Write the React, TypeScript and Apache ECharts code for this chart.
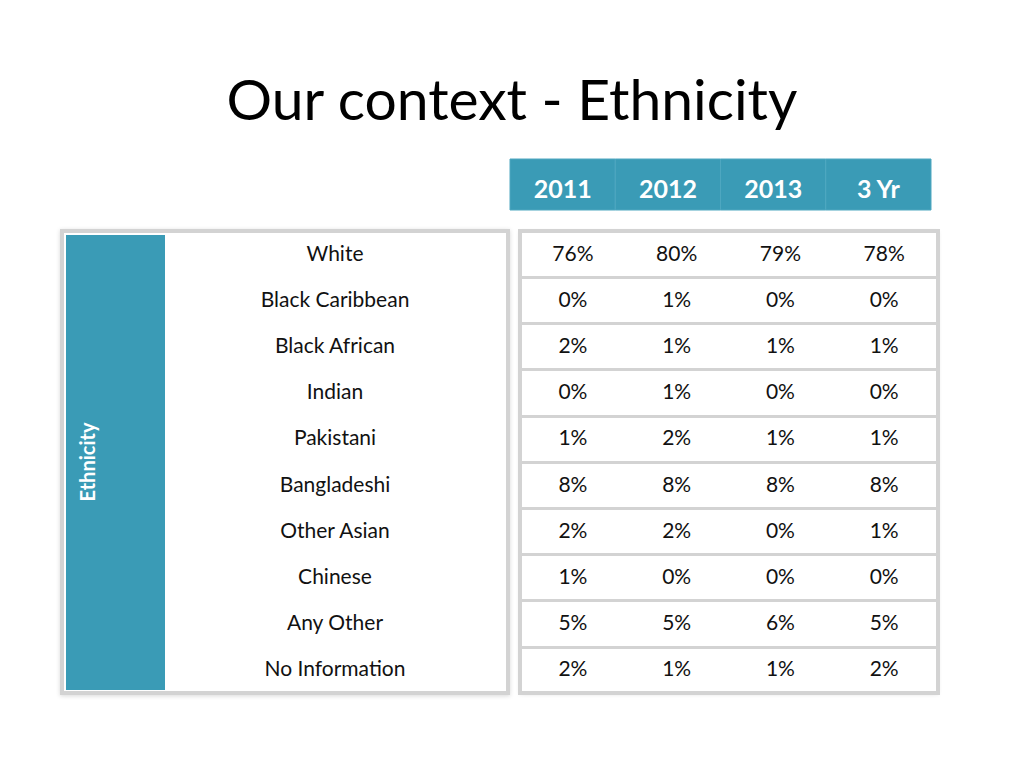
import React, { useEffect, useRef } from "react";
import * as echarts from "echarts";

const years = ["2011", "2012", "2013", "3 Yr"];
const ethnicities = [
  "White",
  "Black Caribbean",
  "Black African",
  "Indian",
  "Pakistani",
  "Bangladeshi",
  "Other Asian",
  "Chinese",
  "Any Other",
  "No Information",
];
const v2011 = [76, 0, 2, 0, 1, 8, 2, 1, 5, 2];
const v2012 = [80, 1, 1, 1, 2, 8, 2, 0, 5, 1];
const v2013 = [79, 0, 1, 0, 1, 8, 0, 0, 6, 1];
const v3yr = [78, 0, 1, 0, 1, 8, 1, 0, 5, 2];
const seriesValues = [v2011, v2012, v2013, v3yr];

const BLUE = "#3a9bb6";
const GRAY = "#d3d3d3";
const FONT = "Lato, 'Open Sans', sans-serif";

export default function App() {
  const ref = useRef<HTMLDivElement>(null);
  useEffect(() => {
    if (!ref.current) return;
    const chart = echarts.init(ref.current, undefined, { renderer: "svg" });
    const cellData: any[] = [];
    seriesValues.forEach((vals, c) => {
      vals.forEach((v, r) => cellData.push([c, r, v]));
    });
    const option: any = {
      animation: false,
      backgroundColor: "#ffffff",
      title: {
        text: "Our context - Ethnicity",
        left: "center",
        top: 64,
        textStyle: { fontFamily: FONT, fontSize: 57, fontWeight: "normal", color: "#000" },
      },
      grid: [
        { left: 521, top: 231, width: 415, height: 462 },
        { left: 510, top: 159, width: 421, height: 51 },
        { left: 165, top: 231, width: 340, height: 462 },
      ],
      xAxis: [
        { type: "category", data: years, gridIndex: 0, show: false },
        { type: "category", data: years, gridIndex: 1, show: false },
        { type: "category", data: ["label"], gridIndex: 2, show: false },
      ],
      yAxis: [
        {
          type: "category",
          data: ethnicities,
          gridIndex: 0,
          inverse: true,
          axisLine: { show: false },
          axisTick: { show: false },
          axisLabel: { show: false },
          splitLine: { show: true, lineStyle: { color: GRAY, width: 3 } },
        },
        { type: "category", data: ["header"], gridIndex: 1, show: false },
        { type: "category", data: ethnicities, gridIndex: 2, inverse: true, show: false },
      ],
      graphic: [
        {
          type: "rect",
          z: 0,
          shape: { x: 62, y: 231, width: 446, height: 462 },
          style: { fill: "#fff", stroke: GRAY, lineWidth: 4, shadowBlur: 4, shadowColor: "rgba(0,0,0,0.15)", shadowOffsetY: 1 },
        },
        {
          type: "rect",
          z: 1,
          shape: { x: 66, y: 235, width: 99, height: 455 },
          style: { fill: BLUE },
        },
        {
          type: "text",
          z: 2,
          x: 87,
          y: 462,
          rotation: Math.PI / 2,
          style: {
            text: "Ethnicity",
            fill: "#fff",
            font: `bold 20px ${FONT}`,
            align: "center",
            verticalAlign: "middle",
          },
        },
        {
          type: "rect",
          z: 0,
          shape: { x: 520, y: 231, width: 418, height: 462 },
          style: { fill: "#fff", stroke: "none", shadowBlur: 4, shadowColor: "rgba(0,0,0,0.15)", shadowOffsetY: 1 },
        },
        {
          type: "rect",
          z: 100,
          shape: { x: 520, y: 231, width: 418, height: 462 },
          style: { fill: "none", stroke: GRAY, lineWidth: 4 },
        },
      ],
      series: [
        {
          type: "custom",
          xAxisIndex: 0,
          yAxisIndex: 0,
          data: cellData,
          z: 10,
          renderItem: (params: any, api: any) => {
            const p = api.coord([api.value(0), api.value(1)]);
            return {
              type: "text",
              x: p[0],
              y: p[1] - 2,
              style: {
                text: api.value(2) + "%",
                fill: "#111",
                font: `21px ${FONT}`,
                align: "center",
                verticalAlign: "middle",
              },
            };
          },
        },
        {
          type: "custom",
          xAxisIndex: 1,
          yAxisIndex: 1,
          data: years.map((y, i) => [i, 0, y]),
          z: 10,
          renderItem: (params: any, api: any) => {
            const p = api.coord([api.value(0), 0]);
            const s = api.size([1, 1]);
            return {
              type: "group",
              children: [
                {
                  type: "rect",
                  shape: { x: p[0] - s[0] / 2, y: p[1] - s[1] / 2, width: s[0], height: s[1] },
                  style: { fill: BLUE, stroke: "#4ea7c0", lineWidth: 1 },
                },
                {
                  type: "text",
                  x: p[0],
                  y: p[1] + 3,
                  style: {
                    text: years[params.dataIndex],
                    fill: "#fff",
                    font: `bold 25px ${FONT}`,
                    align: "center",
                    verticalAlign: "middle",
                  },
                },
              ],
            };
          },
        },
        {
          type: "custom",
          xAxisIndex: 2,
          yAxisIndex: 2,
          data: ethnicities.map((e, i) => [0, i]),
          z: 10,
          renderItem: (params: any, api: any) => {
            const p = api.coord([0, api.value(1)]);
            return {
              type: "text",
              x: p[0],
              y: p[1] - 2,
              style: {
                text: ethnicities[params.dataIndex],
                fill: "#111",
                font: `21px ${FONT}`,
                align: "center",
                verticalAlign: "middle",
              },
            };
          },
        },
      ],
    };
    chart.setOption(option);
    return () => chart.dispose();
  }, []);
  return (
    <div
      ref={ref}
      style={{ position: "absolute", left: 0, top: 0, width: 1024, height: 768 }}
    />
  );
}
